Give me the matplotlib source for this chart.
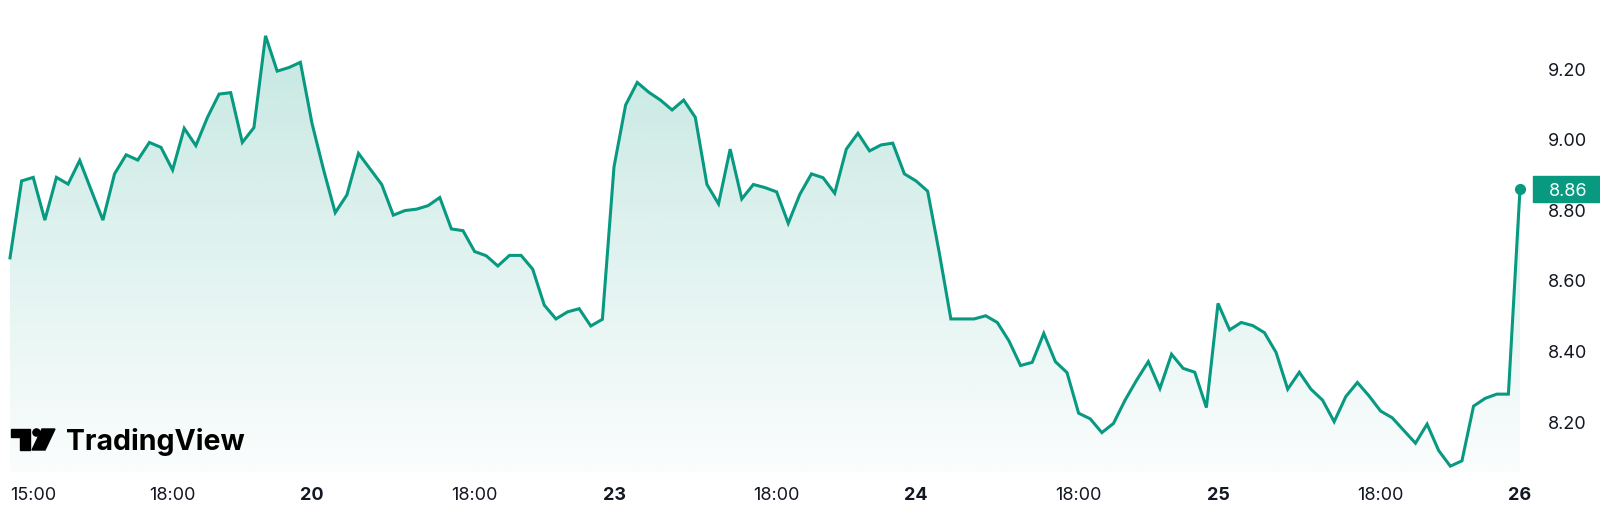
import numpy as np
import matplotlib
matplotlib.use("Agg")
import matplotlib.pyplot as plt
import matplotlib.transforms as mtransforms
from matplotlib.patches import Rectangle, Polygon, Circle

# ---- data (15-minute bars, index based) ----
prices = [8.665, 8.883, 8.893, 8.772, 8.893, 8.874, 8.941, 8.856, 8.772, 8.903,
          8.957, 8.942, 8.992, 8.978, 8.914, 9.032, 8.983, 9.063, 9.129, 9.133,
          8.992, 9.034, 9.294, 9.194, 9.204, 9.219, 9.046, 8.914, 8.793, 8.843,
          8.961, 8.917, 8.873, 8.786, 8.799, 8.803, 8.813, 8.836, 8.747, 8.742,
          8.683, 8.671, 8.642, 8.672, 8.672, 8.633, 8.531, 8.492, 8.512, 8.521,
          8.472, 8.491, 8.923, 9.098, 9.162, 9.134, 9.112, 9.084, 9.112, 9.063,
          8.873, 8.818, 8.973, 8.832, 8.873, 8.864, 8.852, 8.763, 8.845, 8.903,
          8.892, 8.848, 8.973, 9.018, 8.968, 8.985, 8.990, 8.903, 8.883, 8.854,
          8.680, 8.492, 8.492, 8.492, 8.501, 8.482, 8.430, 8.360, 8.369, 8.451,
          8.371, 8.340, 8.225, 8.209, 8.170, 8.196, 8.262, 8.319, 8.371, 8.295,
          8.392, 8.352, 8.341, 8.241, 8.536, 8.461, 8.482, 8.473, 8.453, 8.397,
          8.293, 8.341, 8.293, 8.262, 8.201, 8.272, 8.312, 8.274, 8.231, 8.212,
          8.176, 8.140, 8.194, 8.119, 8.075, 8.090, 8.245, 8.267, 8.279, 8.279,
          8.86]
tick_idx = [2, 14, 26, 40, 52, 66, 78, 92, 104, 118, 130]
tick_labels = ["15:00", "18:00", "20", "18:00", "23", "18:00", "24", "18:00", "25", "18:00", "26"]
day_labels = {"20", "23", "24", "25", "26"}
y_ticks = [8.2, 8.4, 8.6, 8.8, 9.0, 9.2]
last_price = 8.86

LINE = "#089981"
TEXT = "#131722"
W, H = 1600, 527

plt.rcParams["font.family"] = ["Inter", "DejaVu Sans"]

fig = plt.figure(figsize=(W / 100, H / 100), dpi=100)
ax = fig.add_axes([0, 55 / H, 1530 / W, 472 / H])

x = np.arange(len(prices))
y = np.array(prices)
ymin, ymax = 8.0584, 9.3955
ax.set_xlim(-0.861, 130.86)
ax.set_ylim(ymin, ymax)

# gradient fill under the line
fill = ax.fill_between(x, y, ymin, color="none", lw=0)
grad = np.linspace(0.0, 1.0, 256).reshape(-1, 1)
rgba = np.zeros((256, 1, 4))
c = matplotlib.colors.to_rgb(LINE)
rgba[..., 0], rgba[..., 1], rgba[..., 2] = c
rgba[..., 3] = 0.02 + 0.21 * grad
im = ax.imshow(rgba, aspect="auto", origin="lower",
               extent=[x[0], x[-1], ymin, y.max()], zorder=1)
im.set_clip_path(fill.get_paths()[0], transform=ax.transData)

ax.plot(x, y, color=LINE, lw=2.2, zorder=3, solid_joinstyle="miter")
ax.plot([x[-1]], [y[-1]], "o", color=LINE, ms=7, zorder=4)

for s in ax.spines.values():
    s.set_visible(False)

ax.set_xticks(tick_idx)
ax.set_xticklabels(tick_labels)
for lab in ax.get_xticklabels():
    if lab.get_text() in day_labels:
        lab.set_fontweight("bold")
ax.tick_params(axis="x", length=0, pad=11, labelsize=13, labelcolor=TEXT)

ax.yaxis.tick_right()
ax.set_yticks(y_ticks)
ax.set_yticklabels([f"{v:.2f}" for v in y_ticks])
ax.tick_params(axis="y", length=0, pad=13, labelsize=13, labelcolor=TEXT)

# last price label box
bt = mtransforms.blended_transform_factory(fig.transFigure, ax.transData)
box_h = 26 / 353
ax.add_patch(Rectangle((1533 / W, last_price - box_h / 2), 70 / W, box_h,
                       transform=bt, color=LINE, clip_on=False, zorder=10))
ax.text(1568 / W, last_price, f"{last_price:.2f}", transform=bt, color="white",
        fontsize=13, ha="center", va="center_baseline", zorder=11, clip_on=False)

# TradingView logo (pixel coords from top-left)
pt = mtransforms.Affine2D().scale(1 / W, -1 / H).translate(0, 1) + fig.transFigure
fig.patches.append(Polygon([(11, 429), (30, 429), (30, 450), (20, 450), (20, 437), (11, 437)],
                           closed=True, transform=pt, color="#000000"))
fig.patches.append(Circle((36.5, 432.5), 3.6, transform=pt, color="#000000"))
fig.patches.append(Polygon([(42, 429), (55, 429), (45, 450), (32, 450)],
                           closed=True, transform=pt, color="#000000"))
fig.text(66, 450, "TradingView", transform=pt, fontsize=20.5, fontweight="bold",
         color="#000000", ha="left", va="baseline")

fig.savefig("out.png", dpi=100)
